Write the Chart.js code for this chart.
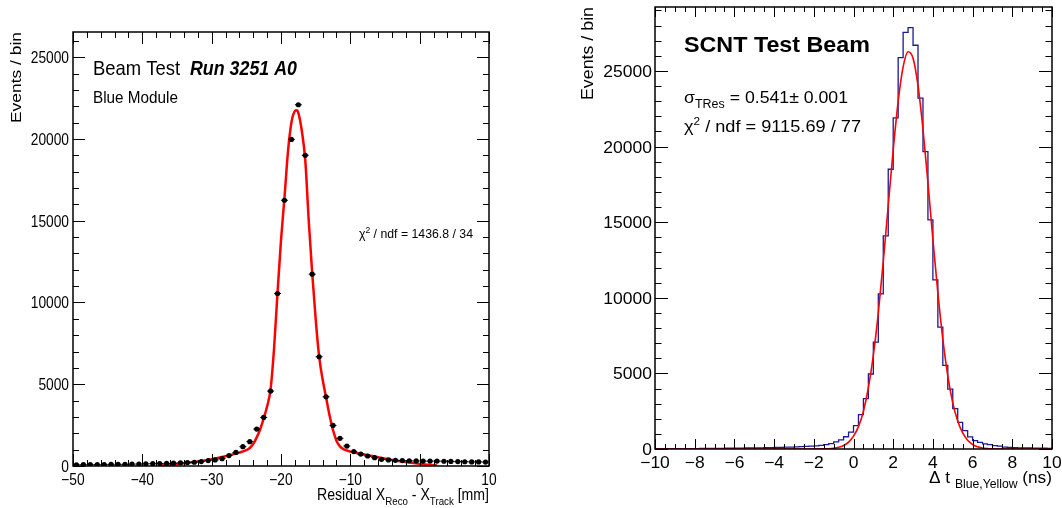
<!DOCTYPE html>
<html>
<head>
<meta charset="utf-8">
<script src="https://cdn.jsdelivr.net/npm/chart.js@4.4.1/dist/chart.umd.min.js"></script>
<style>
  html, body { margin: 0; padding: 0; background: #fff; }
  #wrap { position: relative; width: 1062px; height: 508px; }
  canvas { position: absolute; top: 0; }
  #res-chart { left: 0; }
  #dt-chart { left: 530px; }
</style>
</head>
<body>
<div id="wrap">
  <canvas id="res-chart" width="530" height="508"></canvas>
  <canvas id="dt-chart" width="532" height="508"></canvas>
</div>
<script>
// ---- left plot: residual X_Reco - X_Track, 1 mm bins from -50 to 10
const resMin = -50, resMax = 10, resBinWidth = 1;
const resCounts = [70, 80, 80, 90, 90, 100, 100, 100, 110, 120,
                   130, 140, 150, 160, 170, 190, 210, 230, 270, 330,
                   370, 450, 640, 830, 1180, 1490, 2260, 2970, 4580, 10550,
                   16250, 19970, 22090, 19000, 11730, 6680, 4230, 2480, 1690, 1220,
                   880, 730, 610, 510, 410, 370, 350, 330, 320, 310,
                   300, 300, 300, 290, 280, 270, 260, 250, 250, 240];
// fit curve
const resFitX = [-37.5, -36, -34, -32, -30, -28, -26, -25, -24.5, -24, -23.5, -23, -22.5, -22, -21.5,
                 -21, -20.5, -20, -19.5, -19, -18.5, -18, -17.75, -17.5, -17, -16.5, -16, -15.5,
                 -15, -14.5, -14, -13.5, -13, -12.5, -12, -11.5, -11, -10.5, -10, -8, -6, -4, -2, 0, 2.5];
const resFitY = [30, 80, 170, 280, 420, 600, 820, 970, 1100, 1350, 1750, 2250, 2900, 3650, 4700,
                 7200, 10600, 13800, 16400, 19200, 21000, 21700, 21750, 21600, 20500, 18700, 15000, 11800,
                 9000, 6700, 5300, 4200, 3100, 2200, 1550, 1200, 1030, 950, 880, 700, 530, 370, 240, 130, 30];

// ---- right plot: delta t Blue,Yellow, 0.25 ns bins from -10 to 10
const dtMin = -10, dtMax = 10, dtBinWidth = 0.25;
const dtCounts = [20, 20, 20, 25, 25, 25, 30, 30, 30, 35,
                  35, 40, 40, 45, 50, 50, 55, 60, 65, 70,
                  75, 80, 85, 95, 100, 110, 120, 130, 140, 155,
                  170, 185, 210, 240, 290, 350, 470, 610, 810, 1120,
                  1540, 2270, 3330, 4960, 7070, 10260, 14100, 18500, 21900, 25880,
                  27550, 27860, 26700, 23200, 19670, 15150, 11190, 8060, 5530, 3960,
                  2670, 1760, 1210, 800, 560, 440, 340, 290, 220, 190,
                  130, 110, 90, 80, 70, 65, 60, 55, 50, 45];
const dtFitX = [-10, -2, -1.5, -1.25, -1, -0.75, -0.5, -0.25, 0, 0.25, 0.5, 0.75, 1, 1.25, 1.5, 1.75,
                2, 2.25, 2.5, 2.75, 3, 3.25, 3.5, 3.75, 4, 4.25, 4.5, 4.75, 5, 5.25, 5.5, 5.75,
                6, 6.25, 6.5, 6.75, 7, 7.5, 10];
const dtFitY = [0, 0, 5, 20, 50, 110, 230, 460, 850, 1480, 2500, 4050, 6200, 9000, 12400, 16100,
                19780, 22990, 25270, 26270, 25840, 24030, 21150, 17600, 13860, 10320, 7270, 4840, 3050, 1850, 1060, 580,
                300, 145, 65, 28, 10, 0, 0];

const FONT = "'Liberation Sans', Arial, Helvetica, sans-serif";

function tick_text(v) {
    return v < 0 ? '\u2212' + Math.abs(v) : String(v);
}

// draws a run of text pieces (for sub/superscripts); width squeezes the run to a given size
function draw_rich(ctx, parts, x, y, align, width) {
    let total = 0;
    parts.forEach(p => { ctx.font = p.font; p.w = ctx.measureText(p.text).width; total += p.w; });
    const sx = width ? width / total : 1;
    let cx = x;
    if (align === 'right') cx = x - total * sx;
    if (align === 'center') cx = x - total * sx / 2;
    parts.forEach(p => {
        ctx.save();
        ctx.translate(cx, y + (p.dy || 0));
        ctx.scale(sx, 1);
        ctx.font = p.font;
        ctx.textAlign = 'left';
        ctx.textBaseline = 'alphabetic';
        ctx.fillText(p.text, 0, 0);
        ctx.restore();
        cx += p.w * sx;
    });
}

function is_major(v, step) {
    return Math.abs(v / step - Math.round(v / step)) < 1e-6;
}

// ROOT-like frame: inward ticks on all four sides, labels, titles, notes
const rootFrame = {
    id: 'rootFrame',
    afterDatasetsDraw(chart, args, o) {
        const ctx = chart.ctx, a = chart.chartArea;
        const xs = chart.scales.x, ys = chart.scales.y;
        ctx.save();
        ctx.strokeStyle = '#000';
        ctx.fillStyle = '#000';
        ctx.lineWidth = 1;
        ctx.beginPath();
        for (let v = xs.min; v <= xs.max + 1e-9; v += o.xMinor) {
            const px = Math.round(xs.getPixelForValue(v)) + 0.5;
            const len = is_major(v, o.xMajor) ? o.xTick[0] : o.xTick[1];
            ctx.moveTo(px, a.bottom); ctx.lineTo(px, a.bottom - len);
            ctx.moveTo(px, a.top); ctx.lineTo(px, a.top + len);
        }
        for (let v = 0; v <= ys.max; v += o.yMinor) {
            const py = Math.round(ys.getPixelForValue(v)) + 0.5;
            const len = is_major(v, o.yMajor) ? o.yTick[0] : o.yTick[1];
            ctx.moveTo(a.left, py); ctx.lineTo(a.left + len, py);
            ctx.moveTo(a.right, py); ctx.lineTo(a.right - len, py);
        }
        ctx.stroke();
        ctx.lineWidth = 1.5;
        ctx.strokeRect(a.left, a.top, a.right - a.left, a.bottom - a.top);

        ctx.font = o.labelFont;
        for (let v = xs.min; v <= xs.max + 1e-9; v += o.xMajor) {
            const w = ctx.measureText(tick_text(v)).width;
            draw_rich(ctx, [{ text: tick_text(v), font: o.labelFont }], xs.getPixelForValue(v), o.xLabelY, 'center', w * o.labelScale);
        }
        for (let v = 0; v <= ys.max; v += o.yMajor) {
            ctx.font = o.labelFont;
            const w = ctx.measureText(String(v)).width;
            draw_rich(ctx, [{ text: String(v), font: o.labelFont }], o.yLabelX, ys.getPixelForValue(v) + o.labelRise, 'right', w * o.labelScale);
        }

        draw_rich(ctx, o.xTitle.parts, a.right, o.xTitle.y, 'right', o.xTitle.width);
        ctx.save();
        ctx.translate(o.yTitle.x, a.top);
        ctx.rotate(-Math.PI / 2);
        draw_rich(ctx, [{ text: 'Events / bin', font: o.yTitle.font }], 0, 0, 'right', o.yTitle.width);
        ctx.restore();

        o.notes.forEach(n => draw_rich(ctx, n.parts, n.x, n.y, 'left', n.width));
        ctx.restore();
    }
};

// horizontal bin-width bars on the data points
const binBars = {
    id: 'binBars',
    afterDatasetsDraw(chart) {
        const ctx = chart.ctx, xs = chart.scales.x;
        const meta = chart.getDatasetMeta(0);
        ctx.save();
        ctx.strokeStyle = '#000';
        ctx.lineWidth = 1;
        ctx.beginPath();
        meta.data.forEach((pt, i) => {
            const c = chart.data.datasets[0].data[i].x;
            ctx.moveTo(xs.getPixelForValue(c - resBinWidth / 2), pt.y);
            ctx.lineTo(xs.getPixelForValue(c + resBinWidth / 2), pt.y);
        });
        ctx.stroke();
        ctx.restore();
    }
};

function base_options(xMin, xMax, yMax, padding, frame) {
    return {
        responsive: false,
        animation: false,
        layout: { padding: padding },
        scales: {
            x: { type: 'linear', min: xMin, max: xMax, display: false },
            y: { type: 'linear', min: 0, max: yMax, display: false }
        },
        plugins: {
            legend: { display: false },
            tooltip: { enabled: false },
            rootFrame: frame
        }
    };
}

const resPoints = resCounts.map((c, i) => ({ x: resMin + (i + 0.5) * resBinWidth, y: c }));
const resFit = resFitX.map((x, i) => ({ x: x, y: resFitY[i] }));

new Chart(document.getElementById('res-chart').getContext('2d'), {
    type: 'line',
    data: {
        datasets: [
            {
                data: resPoints,
                showLine: false,
                pointRadius: 2.6,
                pointBackgroundColor: '#000',
                pointBorderColor: '#000',
                pointBorderWidth: 0
            },
            {
                data: resFit,
                borderColor: '#ff0000',
                borderWidth: 2.5,
                pointRadius: 0,
                cubicInterpolationMode: 'monotone',
                fill: false
            }
        ]
    },
    options: base_options(resMin, resMax, 26540, { left: 73, right: 41, top: 32, bottom: 42 }, {
        xMajor: 10, xMinor: 2, yMajor: 5000, yMinor: 1000,
        xTick: [12, 6], yTick: [12, 6],
        labelFont: '16px ' + FONT, labelScale: 0.86, labelRise: 6,
        xLabelY: 485, yLabelX: 69,
        xTitle: {
            y: 500, width: 172,
            parts: [
                { text: 'Residual X', font: '16px ' + FONT },
                { text: 'Reco', font: '11px ' + FONT, dy: 5 },
                { text: ' - X', font: '16px ' + FONT },
                { text: 'Track', font: '11px ' + FONT, dy: 5 },
                { text: ' [mm]', font: '16px ' + FONT }
            ]
        },
        yTitle: { x: 21, width: 91, font: '15px ' + FONT },
        notes: [
            { x: 93, y: 75, width: 87, parts: [{ text: 'Beam Test', font: '21px ' + FONT }] },
            { x: 190, y: 75, width: 107, parts: [{ text: 'Run 3251 A0', font: 'italic bold 21px ' + FONT }] },
            { x: 93, y: 103, width: 85, parts: [{ text: 'Blue Module', font: '17px ' + FONT }] },
            { x: 359, y: 238, width: 114, parts: [
                { text: '\u03c7', font: '13px ' + FONT },
                { text: '2', font: '9px ' + FONT, dy: -5 },
                { text: ' / ndf = 1436.8 / 34', font: '13px ' + FONT }
            ] }
        ]
    }),
    plugins: [binBars, rootFrame]
});

const dtHist = dtCounts.map((c, i) => ({ x: dtMin + i * dtBinWidth, y: c }));
dtHist.push({ x: dtMax, y: dtCounts[dtCounts.length - 1] });
const dtFit = dtFitX.map((x, i) => ({ x: x, y: dtFitY[i] }));

new Chart(document.getElementById('dt-chart').getContext('2d'), {
    type: 'line',
    data: {
        datasets: [
            {
                data: dtFit,
                borderColor: '#ff0000',
                borderWidth: 1.6,
                pointRadius: 0,
                cubicInterpolationMode: 'monotone',
                fill: false
            },
            {
                data: dtHist,
                stepped: 'before',
                borderColor: '#1a1a9a',
                borderWidth: 1.3,
                pointRadius: 0,
                fill: false
            }
        ]
    },
    options: base_options(dtMin, dtMax, 29230, { left: 125, right: 10, top: 7, bottom: 59 }, {
        xMajor: 2, xMinor: 0.5, yMajor: 5000, yMinor: 1000,
        xTick: [10, 5], yTick: [13, 6.5],
        labelFont: '16.5px ' + FONT, labelScale: 1.06, labelRise: 6,
        xLabelY: 468, yLabelX: 122,
        xTitle: {
            y: 483, width: 123,
            parts: [
                { text: '\u0394 t ', font: '17px ' + FONT },
                { text: 'Blue,Yellow', font: '12px ' + FONT, dy: 5 },
                { text: ' (ns)', font: '17px ' + FONT }
            ]
        },
        yTitle: { x: 63, width: 93, font: '17px ' + FONT },
        notes: [
            { x: 154, y: 52, width: 186, parts: [{ text: 'SCNT Test Beam', font: 'bold 22px ' + FONT }] },
            { x: 154, y: 103, width: 164, parts: [
                { text: '\u03c3', font: '17px ' + FONT },
                { text: 'TRes', font: '12px ' + FONT, dy: 5 },
                { text: ' = 0.541\u00b1 0.001', font: '17px ' + FONT }
            ] },
            { x: 154, y: 132, width: 177, parts: [
                { text: '\u03c7', font: '17px ' + FONT },
                { text: '2', font: '11px ' + FONT, dy: -7 },
                { text: ' / ndf = 9115.69 / 77', font: '17px ' + FONT }
            ] }
        ]
    }),
    plugins: [rootFrame]
});
</script>
</body>
</html>
